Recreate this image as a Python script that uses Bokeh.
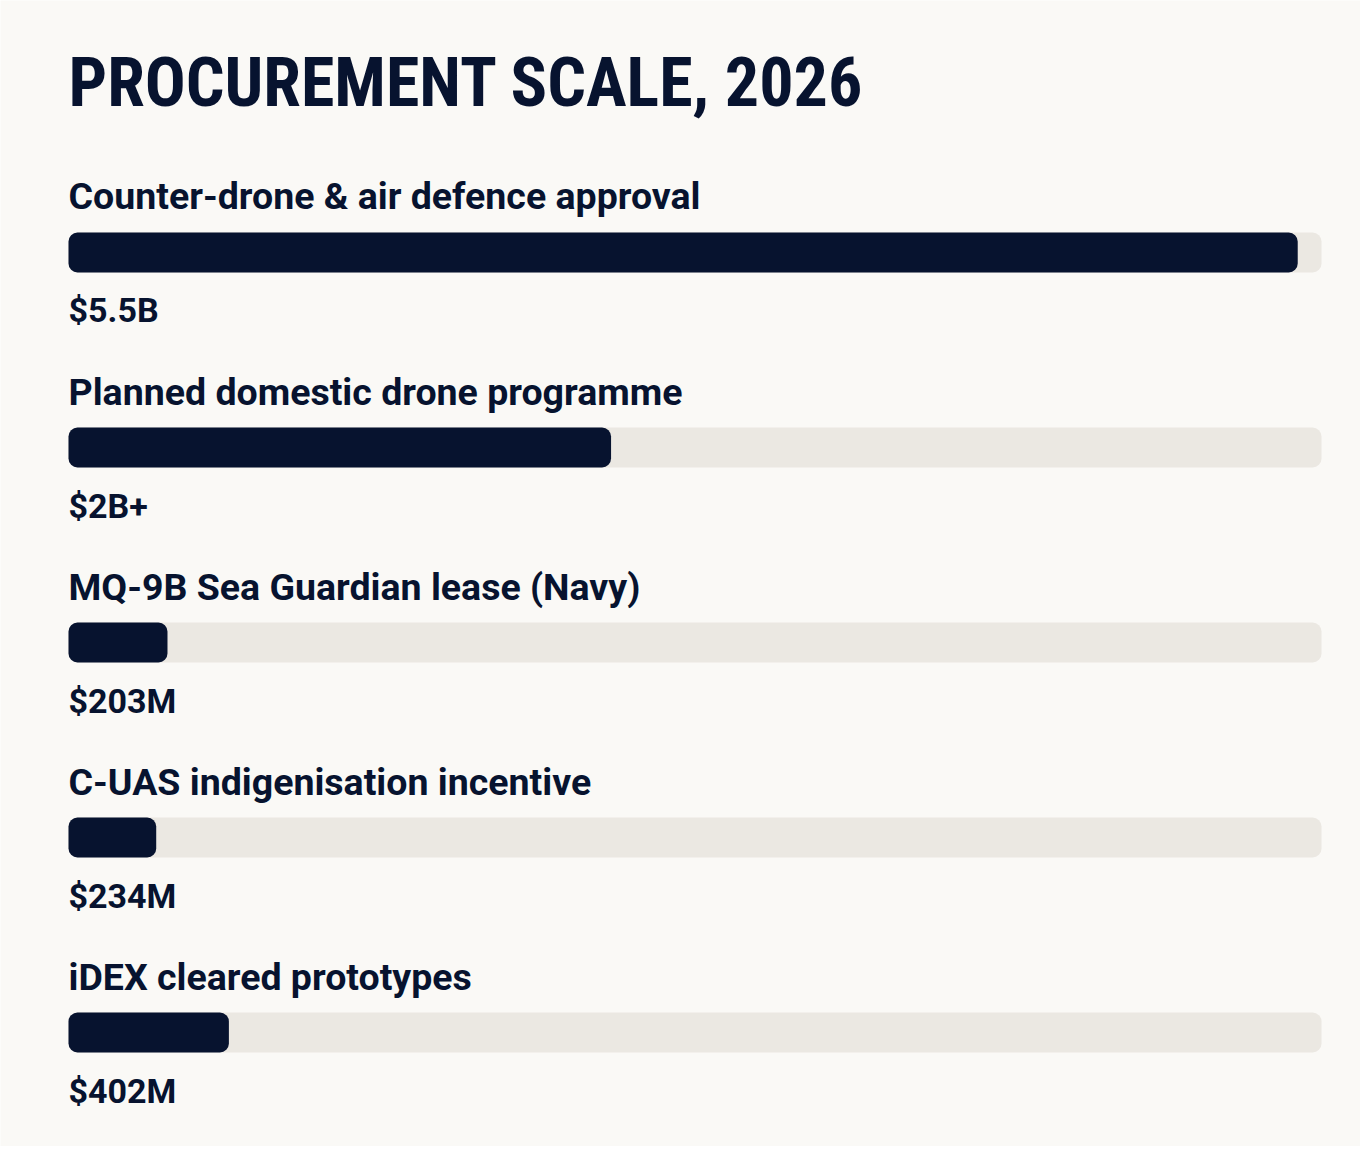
from bokeh.plotting import figure
from bokeh.models import ColumnDataSource, Label, Range1d
from bokeh.core.properties import value
from bokeh.embed import file_html
from bokeh.resources import INLINE

# rows, top to bottom
categories = [
    "Counter-drone & air defence approval",
    "Planned domestic drone programme",
    "MQ-9B Sea Guardian lease (Navy)",
    "C-UAS indigenisation incentive",
    "iDEX cleared prototypes",
]
value_labels = ["$5.5B", "$2B+", "$203M", "$234M", "$402M"]
# bar length as drawn, in % of the track
bar_share = [98.1, 43.3, 7.9, 7.0, 12.8]

NAVY = "#07132f"
TRACK = "#ebe8e2"
BG = "#faf9f6"

row_y = [-i for i in range(len(categories))]
src = ColumnDataSource(dict(
    y=row_y,
    share=bar_share,
    full=[100] * len(categories),
    zero=[0] * len(categories),
    cat=categories,
    val=value_labels,
))

W, H = 1360, 1146
p = figure(width=W, height=H, output_backend="svg", toolbar_location=None,
           x_range=Range1d(-5.427, 103.11), y_range=Range1d(-4.5846, 1.2923),
           min_border=0, outline_line_color=None,
           background_fill_color=BG, border_fill_color=BG)
p.axis.visible = False
p.grid.visible = False

# grey track, then the dark bar on top
p.hbar(y="y", left="zero", right="full", height=0.205, source=src,
       fill_color=TRACK, line_color=None, border_radius=9)
p.hbar(y="y", left="zero", right="share", height=0.205, source=src,
       fill_color=NAVY, line_color=None, border_radius=9)

p.text(x="zero", y="y", text="cat", source=src, y_offset=-56,
       text_baseline="alphabetic", text_align="left",
       text_font=value("Roboto"), text_font_size="37.5px", text_font_style="bold",
       text_color=NAVY)
p.text(x="zero", y="y", text="val", source=src, y_offset=58,
       text_baseline="alphabetic", text_align="left",
       text_font=value("Roboto"), text_font_size="34px", text_font_style="bold",
       text_color=NAVY)

title = Label(x=68, y=H - 82, x_units="screen", y_units="screen",
              text="PROCUREMENT SCALE, 2026", text_font="Roboto Condensed",
              text_font_size="68px", text_font_style="bold",
              text_color=NAVY, text_baseline="alphabetic")
p.add_layout(title)

open("out.html", "w").write(file_html(p, INLINE))
